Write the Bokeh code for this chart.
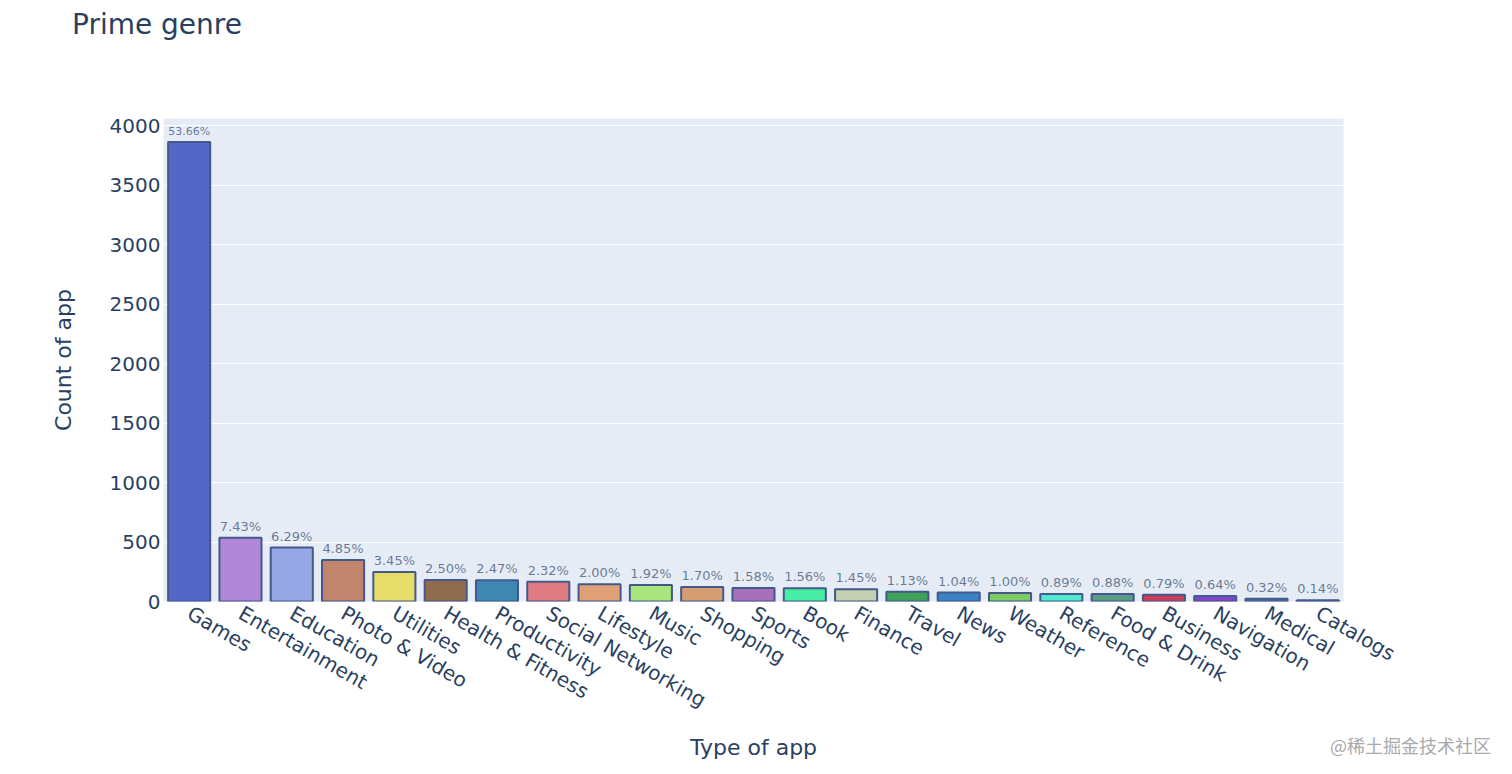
import math
from bokeh.plotting import figure
from bokeh.layouts import column
from bokeh.models import ColumnDataSource, FactorRange, Range1d, SingleIntervalTicker, Div
from bokeh.core.properties import value
from bokeh.embed import file_html
from bokeh.resources import INLINE

genres = ["Games", "Entertainment", "Education", "Photo & Video", "Utilities",
          "Health & Fitness", "Productivity", "Social Networking", "Lifestyle", "Music",
          "Shopping", "Sports", "Book", "Finance", "Travel", "News", "Weather",
          "Reference", "Food & Drink", "Business", "Navigation", "Medical", "Catalogs"]
counts = [3862, 535, 453, 349, 248, 180, 178, 167, 144, 138, 122, 114, 112, 104,
          81, 75, 72, 64, 63, 57, 46, 23, 10]
pct_labels = ["53.66%", "7.43%", "6.29%", "4.85%", "3.45%", "2.50%", "2.47%", "2.32%",
              "2.00%", "1.92%", "1.70%", "1.58%", "1.56%", "1.45%", "1.13%", "1.04%",
              "1.00%", "0.89%", "0.88%", "0.79%", "0.64%", "0.32%", "0.14%"]
bar_colors = ["#5466C7", "#B086D6", "#97A7E5", "#C1846C", "#E6DD69", "#8F6C4E",
              "#3E87B3", "#DF7B83", "#E0A077", "#A9E67E", "#D79D72", "#A66FBA",
              "#45EDA5", "#C3D1B0", "#3F9F5B", "#3D81C5", "#7DCB64", "#4FEAD0",
              "#5A9D85", "#CB3D59", "#8145C9", "#5570A8", "#4D6A9E"]
label_sizes = ["11px"] + ["13px"] * (len(genres) - 1)

FONT = "DejaVu Sans"
FG = "#2a3f5f"
W, H = 1496, 758

src = ColumnDataSource(dict(g=genres, c=counts, t=pct_labels, col=bar_colors, fs=label_sizes))

p = figure(x_range=FactorRange(*genres, range_padding=0), y_range=Range1d(0, 4060),
           frame_width=1180, frame_height=483, width=W, height=H,
           min_border_left=163, min_border_right=153, min_border_top=118, min_border_bottom=157,
           output_backend="svg", toolbar_location=None, tools="")
p.background_fill_color = "#E5ECF6"
p.border_fill_color = None
p.outline_line_color = None

p.vbar(x="g", top="c", width=0.82, source=src, fill_color="col", fill_alpha=1.0,
       line_color="#44598A", line_width=2)
p.text(x="g", y="c", text="t", source=src, y_offset=-4, text_align="center",
       text_baseline="bottom", text_font=value(FONT), text_font_size="fs",
       text_color=FG, text_alpha=0.68)

p.xgrid.grid_line_color = None
p.ygrid.grid_line_color = "white"
p.ygrid.grid_line_width = 1.2
p.ygrid.ticker = SingleIntervalTicker(interval=500)

for ax in (p.xaxis[0], p.yaxis[0]):
    ax.axis_line_color = None
    ax.major_tick_line_color = None
    ax.minor_tick_line_color = None
    ax.major_tick_out = 0
    ax.major_tick_in = 0
    ax.minor_tick_out = 0
    ax.major_label_text_font = FONT
    ax.major_label_text_font_size = "20px"
    ax.major_label_text_color = FG
    ax.axis_label_text_font = FONT
    ax.axis_label_text_font_size = "22px"
    ax.axis_label_text_color = FG
    ax.axis_label_text_font_style = "normal"

p.yaxis.ticker = SingleIntervalTicker(interval=500)
p.yaxis.axis_label = "Count of app"
p.yaxis.major_label_standoff = 3
p.yaxis.axis_label_standoff = 31
p.xaxis.axis_label = "Type of app"
p.xaxis.major_label_orientation = -math.pi / 6
p.xaxis.major_label_standoff = 10
p.xaxis.axis_label_standoff = 10

title = Div(text="Prime genre", height=32, margin=(9, 0, -41, 72),
            styles={"color": FG, "font-size": "28px", "font-family": FONT,
                    "white-space": "nowrap", "line-height": "32px"})
wm = Div(text="@稀土掘金技术社区", height=24, margin=(-30, 0, 0, 1330),
         styles={"color": "#a9a9a9", "font-size": "18px", "font-family": "Noto Sans CJK SC",
                 "white-space": "nowrap", "line-height": "24px"})

open("out.html", "w").write(file_html(column(title, p, wm), INLINE))
